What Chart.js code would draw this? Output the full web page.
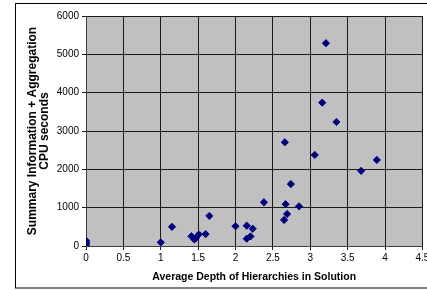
<!DOCTYPE html>
<html>
<head>
<meta charset="utf-8">
<script src="https://cdn.jsdelivr.net/npm/chart.js@4"></script>
<style>
  html, body { margin: 0; padding: 0; background: #ffffff; }
  #c { display: block; }
</style>
</head>
<body>
<canvas id="c" width="427" height="290"></canvas>
<script>
// Data
const depthValues = [0, 0, 0, 0, 1.0, 1.15, 1.41, 1.45, 1.47, 1.51, 1.6, 1.65, 2.0, 2.15, 2.23, 2.15, 2.2, 2.38, 2.65, 2.67, 2.69, 2.66, 2.74, 2.85, 3.06, 3.16, 3.21, 3.35, 3.68, 3.89];
const cpuSeconds  = [20, 60, 100, 140, 95, 500, 255, 170, 210, 305, 310, 785, 515, 530, 450, 190, 250, 1140, 680, 1090, 835, 2705, 1615, 1035, 2375, 3740, 5290, 3235, 1960, 2245];
const xTickLabels = ['0', '0.5', '1', '1.5', '2', '2.5', '3', '3.5', '4', '4.5'];
const yTickLabels = ['0', '1000', '2000', '3000', '4000', '5000', '6000'];
const xTitle = 'Average Depth of Hierarchies in Solution';
const yTitle = ['Summary Information + Aggregation', 'CPU seconds'];

const points = depthValues.map((x, i) => ({ x: x, y: cpuSeconds[i] }));

const frame = {
  id: 'frame',
  beforeDraw(chart) {
    const ctx = chart.ctx;
    const a = chart.chartArea;
    ctx.save();
    ctx.fillStyle = '#c0c0c0';
    ctx.fillRect(a.left, a.top, a.right - a.left, a.bottom - a.top);
    ctx.strokeStyle = '#000000';
    ctx.lineWidth = 1;
    ctx.strokeRect(15.5, 3.5, 430, 284.5);
    ctx.restore();
  }
};

const font = { family: "'Liberation Sans', Arial, sans-serif", size: 10 };

new Chart(document.getElementById('c'), {
  type: 'scatter',
  data: {
    datasets: [{
      data: points,
      pointStyle: 'rectRot',
      pointRadius: 3.6,
      pointHoverRadius: 3.6,
      backgroundColor: '#000080',
      borderColor: '#000080',
      borderWidth: 1
    }]
  },
  options: {
    responsive: false,
    animation: false,
    events: [],
    layout: { padding: { left: 20, top: 16, right: 4, bottom: 4 } },
    plugins: { legend: { display: false }, tooltip: { enabled: false } },
    scales: {
      x: {
        type: 'linear',
        min: 0, max: 4.5,
        afterBuildTicks(scale) {
          scale.ticks = xTickLabels.map(v => ({ value: parseFloat(v) }));
        },
        afterFit(scale) { scale.height = 40; scale.paddingLeft = 0; scale.paddingRight = 0; },
        ticks: {
          color: '#000', font: font, padding: 2, maxRotation: 0, autoSkip: false,
          callback: (v, i) => xTickLabels[i]
        },
        grid: { color: '#1a1a1a', lineWidth: 1, tickLength: 4, drawTicks: true },
        border: { color: '#404040', width: 1 },
        title: {
          display: true, text: xTitle, color: '#000',
          font: { family: "'Liberation Sans', Arial, sans-serif", size: 10.5, weight: 'bold' },
          padding: { top: 4, bottom: 3 }
        }
      },
      y: {
        type: 'linear',
        min: 0, max: 6000,
        afterBuildTicks(scale) {
          scale.ticks = yTickLabels.map(v => ({ value: parseFloat(v) }));
        },
        afterFit(scale) { scale.width = 66; scale.paddingTop = 0; scale.paddingBottom = 0; },
        ticks: {
          color: '#000', font: font, padding: 3,
          callback: (v, i) => yTickLabels[i]
        },
        grid: { color: '#1a1a1a', lineWidth: 1, tickLength: 4, drawTicks: true },
        border: { color: '#404040', width: 1 },
        title: {
          display: true, text: yTitle, color: '#000',
          font: { family: "'Liberation Sans', Arial, sans-serif", size: 12, weight: 'bold', lineHeight: 1.0 },
          padding: { top: 7, bottom: 0 }
        }
      }
    }
  },
  plugins: [frame]
});
</script>
</body>
</html>
